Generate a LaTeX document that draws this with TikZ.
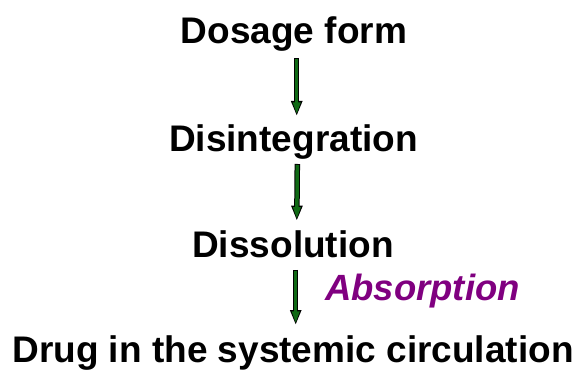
\documentclass[tikz,border=0pt]{standalone}
\usepackage{fontspec}
\setmainfont{Liberation Sans}
\usetikzlibrary{arrows.meta}
\definecolor{arrgreen}{RGB}{15,105,20}
\definecolor{absorb}{RGB}{128,0,128}
\tikzset{
  lbl/.style={anchor=base, inner sep=0pt, font=\fontsize{37}{41}\selectfont\bfseries},
  abs/.style={anchor=base west, inner sep=0pt, text=absorb, font=\fontsize{36.5}{40}\selectfont\bfseries\itshape},
  arrout/.style={draw=black, line width=5.5pt, -{Triangle[length=15pt,width=10.5pt]}},
  arrin/.style={draw=arrgreen, line width=3.5pt, shorten <=1pt, shorten >=1.6pt, -{Triangle[length=12pt,width=7pt]}}
}
\newcommand{\gArrow}[2]{\draw[arrout] #1 -- #2; \draw[arrin] #1 -- #2;}
\begin{document}
\begin{tikzpicture}[x=1pt,y=1pt]
\useasboundingbox (0,0) rectangle (577,369);
\node[lbl] (dos) at (294,325.7) {Dosage form};
\node[lbl] (dis) at (293.5,217.3) {Disintegration};
\node[lbl] (sol) at (293,111.7) {Dissolution};
\node[lbl] (drug) at (293,6.5) {Drug in the systemic circulation};
\node[abs] (absn) at (325,69) {Absorption};
\gArrow{([xshift=2.7pt,yshift=-15pt]dos.base)}{([xshift=3.2pt,yshift=35.7pt]dis.base)}
\gArrow{([xshift=3.8pt,yshift=-12.3pt]dis.base)}{([xshift=3.8pt,yshift=36.6pt]sol.base)}
\gArrow{([xshift=2.7pt,yshift=-12.7pt]sol.base)}{([xshift=2.7pt,yshift=37.5pt]drug.base)}
\end{tikzpicture}
\end{document}
